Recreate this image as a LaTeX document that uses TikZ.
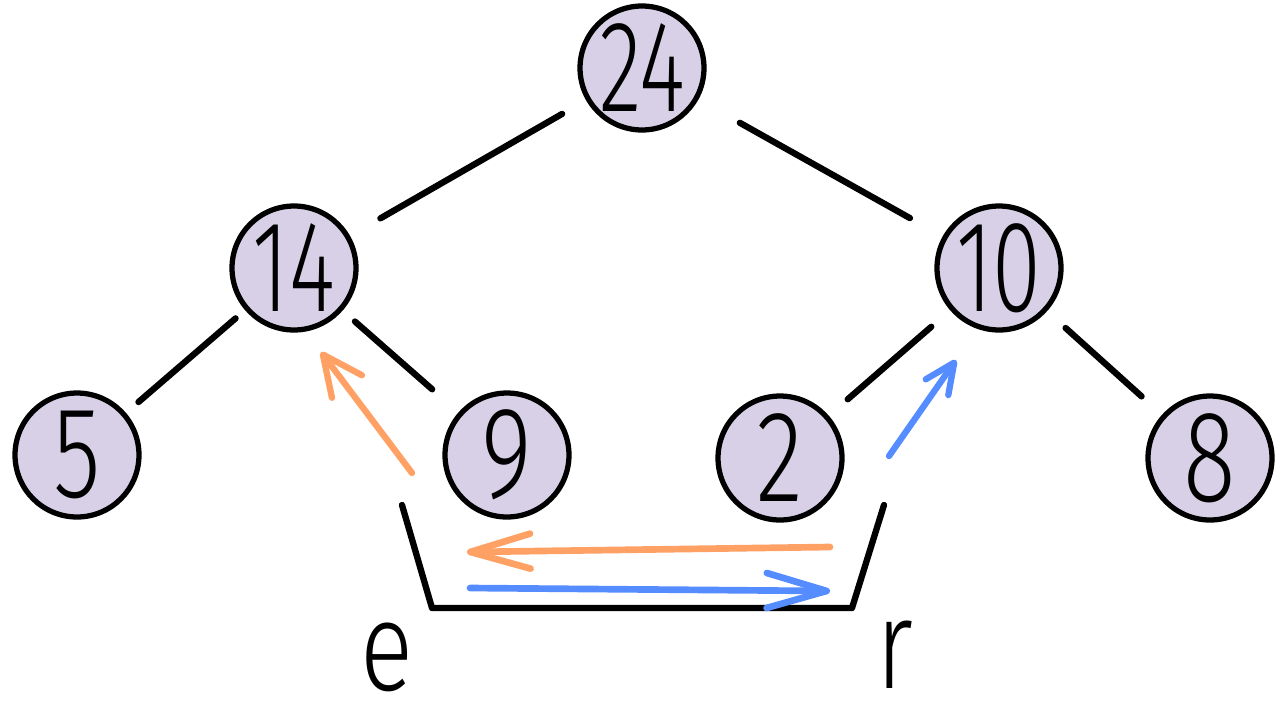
\documentclass[tikz,border=0pt]{standalone}
\usepackage{fontspec}
\setmainfont{Fira Sans}[UprightFont=* Light]
\usepackage{graphicx}
\usetikzlibrary{arrows.meta}
\definecolor{lav}{RGB}{216,208,230}
\definecolor{myorange}{RGB}{255,160,100}
\definecolor{myblue}{RGB}{85,140,255}
\begin{document}
\begin{tikzpicture}[x=0.02cm,y=-0.02cm,
  vertex/.style={circle, draw=black, line width=3pt, fill=lav,
    minimum size=2.48cm, inner sep=0pt, font=\fontsize{74}{74}\selectfont},
  edge/.style={line width=3.6pt, line cap=round},
  oarrow/.style={draw=myorange, line width=3.8pt, line cap=round,
    -{Straight Barb[round, length=1.2cm, width=0.7cm]}},
  barrow/.style={draw=myblue, line width=3.8pt, line cap=round,
    -{Straight Barb[round, length=1.2cm, width=0.7cm]}},
  dorange/.style={draw=myorange, line width=3.6pt, line cap=round,
    -{Straight Barb[round, length=0.8cm, width=0.75cm]}},
  dblue/.style={draw=myblue, line width=3.6pt, line cap=round,
    -{Straight Barb[round, length=0.6cm, width=0.55cm]}},
  letter/.style={inner sep=0pt, font=\fontsize{72}{72}\selectfont}]
\useasboundingbox (0,0) rectangle (1280,721);

\node[vertex] (n24) at (642,68) {\scalebox{0.68}[1]{24}};
\node[vertex] (n14) at (294,268) {\scalebox{0.68}[1]{14}};
\node[vertex] (n10) at (999,268) {\scalebox{0.68}[1]{10}};
\node[vertex] (n5) at (77,455) {\scalebox{0.75}[1]{5}};
\node[vertex] (n9) at (507,455) {\scalebox{0.75}[1]{9}};
\node[vertex] (n2) at (780,458) {\scalebox{0.75}[1]{2}};
\node[vertex] (n8) at (1210,458) {\scalebox{0.75}[1]{8}};

\draw[edge, shorten <=0.55cm, shorten >=0.7cm] (n24) -- (n14);
\draw[edge, shorten <=0.95cm, shorten >=0.75cm] (n24) -- (n10);
\draw[edge, shorten <=0.25cm, shorten >=0.33cm] (n14) -- (n5);
\draw[edge, shorten <=0.33cm, shorten >=0.7cm] (n14) -- (n9);
\draw[edge, shorten <=0.5cm, shorten >=0.5cm] (n10) -- (n2);
\draw[edge, shorten <=0.5cm, shorten >=0.55cm] (n10) -- (n8);

% diagonal arrows
\coordinate (oa1) at (412,473);
\coordinate (oa2) at (321,352);
\coordinate (ba1) at (889,456);
\coordinate (ba2) at (956,360);
\draw[dorange] (oa1) -- (oa2);
\draw[dblue] (ba1) -- (ba2);

% bracket
\coordinate (b1) at (402,505);
\coordinate (b2) at (432,608);
\coordinate (b3) at (852,608);
\coordinate (b4) at (884,505);
\draw[edge, line join=round] (b1) -- (b2) -- (b3) -- (b4);

% horizontal arrows
\coordinate (h1) at (830,547);
\coordinate (h2) at (467,552);
\coordinate (h3) at (470,588);
\coordinate (h4) at (830,591);
\draw[oarrow] (h1) -- (h2);
\draw[barrow] (h3) -- (h4);

% labels
\node[letter] (le) at (387,657) {\scalebox{0.78}[1]{e}};
\node[letter] (lr) at (895,655) {\scalebox{0.78}[1]{r}};
\end{tikzpicture}
\end{document}
